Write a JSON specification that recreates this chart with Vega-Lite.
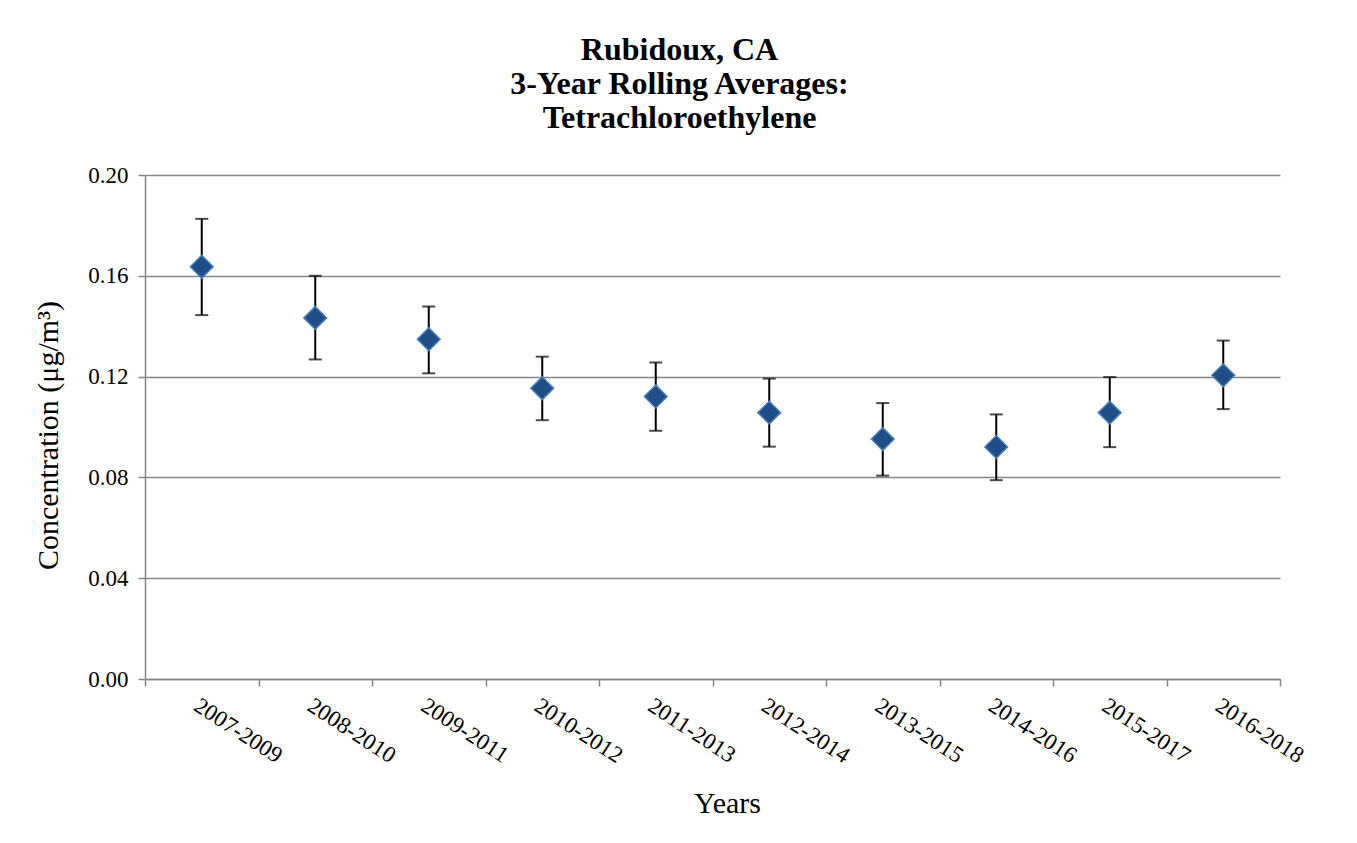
{
  "$schema": "https://vega.github.io/schema/vega-lite/v6.json",
  "autosize": "none",
  "width": 1135,
  "height": 504,
  "padding": {"left": 145, "top": 175, "right": 77, "bottom": 164},
  "background": "white",
  "title": {
    "text": ["Rubidoux, CA", "3-Year Rolling Averages:", "Tetrachloroethylene"],
    "font": "Liberation Serif",
    "fontWeight": "bold",
    "fontSize": 32,
    "lineHeight": 34,
    "color": "black",
    "anchor": "middle",
    "dx": -33,
    "offset": 29
  },
  "data": {
    "values": [
      {"period": "2007-2009", "value": 0.1636, "lo": 0.1444, "hi": 0.1826},
      {"period": "2008-2010", "value": 0.1433, "lo": 0.1268, "hi": 0.1600},
      {"period": "2009-2011", "value": 0.1348, "lo": 0.1213, "hi": 0.1478},
      {"period": "2010-2012", "value": 0.1154, "lo": 0.1027, "hi": 0.1279},
      {"period": "2011-2013", "value": 0.1121, "lo": 0.0985, "hi": 0.1256},
      {"period": "2012-2014", "value": 0.1057, "lo": 0.0922, "hi": 0.1192},
      {"period": "2013-2015", "value": 0.0952, "lo": 0.0807, "hi": 0.1095},
      {"period": "2014-2016", "value": 0.0921, "lo": 0.0789, "hi": 0.1050},
      {"period": "2015-2017", "value": 0.1057, "lo": 0.0920, "hi": 0.1198},
      {"period": "2016-2018", "value": 0.1205, "lo": 0.1071, "hi": 0.1343}
    ]
  },
  "encoding": {
    "x": {
      "field": "period",
      "type": "nominal",
      "sort": null,
      "scale": {"paddingInner": 0, "paddingOuter": 0},
      "axis": {
        "title": "Years",
        "titleFont": "Liberation Serif",
        "titleFontSize": 30,
        "titleFontWeight": "normal",
        "titleColor": "black",
        "titleX": 582,
        "titleY": 133,
        "titleBaseline": "alphabetic",
        "labelFont": "Liberation Serif",
        "labelFontSize": 23,
        "labelColor": "black",
        "labelAngle": 33,
        "labelAlign": "left",
        "labelBaseline": "top",
        "labelPadding": 8,
        "tickBand": "extent",
        "ticks": true,
        "tickSize": 7,
        "tickColor": "#868686",
        "tickWidth": 1.5,
        "domainColor": "#868686",
        "domainWidth": 1.5,
        "grid": false
      }
    }
  },
  "layer": [
    {
      "mark": {"type": "rule", "color": "black", "strokeWidth": 2},
      "encoding": {
        "y": {
          "field": "lo",
          "type": "quantitative",
          "scale": {"domain": [0, 0.2], "nice": false},
          "axis": {
            "title": "Concentration (μg/m³)",
            "titleFont": "Liberation Serif",
            "titleFontSize": 30,
            "titleFontWeight": "normal",
            "titleColor": "black",
            "titleX": -88,
            "titleY": 260,
            "titleBaseline": "alphabetic",
            "titleAngle": -90,
            "values": [0, 0.04, 0.08, 0.12, 0.16, 0.2],
            "format": ".2f",
            "labelFont": "Liberation Serif",
            "labelFontSize": 23,
            "labelColor": "black",
            "labelPadding": 10,
            "tickSize": 7,
            "tickColor": "#868686",
            "tickWidth": 1.5,
            "domainColor": "#868686",
            "domainWidth": 1.5,
            "grid": true,
            "gridColor": "#868686",
            "gridWidth": 1.5
          }
        },
        "y2": {"field": "hi"}
      }
    },
    {
      "mark": {"type": "tick", "color": "black", "size": 13, "thickness": 2, "orient": "horizontal"},
      "encoding": {"y": {"field": "lo", "type": "quantitative"}}
    },
    {
      "mark": {"type": "tick", "color": "black", "size": 13, "thickness": 2, "orient": "horizontal"},
      "encoding": {"y": {"field": "hi", "type": "quantitative"}}
    },
    {
      "mark": {"type": "point", "shape": "diamond", "filled": true, "size": 520, "fill": "#1f4e86", "stroke": "#4a7ebb", "strokeWidth": 1.5, "opacity": 1},
      "encoding": {"y": {"field": "value", "type": "quantitative"}}
    }
  ],
  "config": {
    "view": {"stroke": null}
  }
}
